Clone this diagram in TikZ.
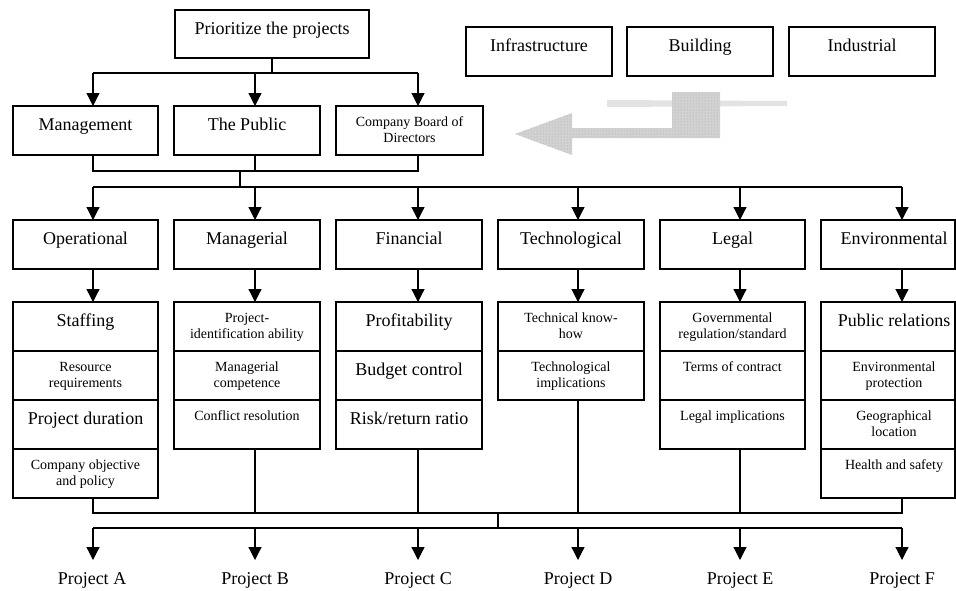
\documentclass[tikz,border=0pt]{standalone}
\usepackage{fontspec}
\setmainfont{Liberation Serif}
\usetikzlibrary{arrows.meta,patterns}
\newcommand\mybox[6]{%
  \node[box,minimum width=#3pt,minimum height=#4pt] (#1) at (#2) {};
  \node[txt,#5] (#1t) at ([yshift=-9.5pt]#1.north) {\strut #6};}
\begin{document}
\begin{tikzpicture}[x=1pt,y=-1pt,
  box/.style={draw, line width=1.2pt, rectangle, inner sep=0pt, outer sep=0pt, anchor=north west},
  big/.style={font=\fontsize{18}{21}\selectfont},
  small/.style={font=\fontsize{14}{15.5}\selectfont},
  txt/.style={anchor=north, inner sep=0pt, align=center},
  conn/.style={line width=1.2pt},
  arr/.style={line width=1.2pt, -{Triangle[width=13pt,length=13pt]}},
  plabel/.style={big, anchor=base, inner sep=0pt},
  ghost/.style={draw=none, fill=gray!28, pattern color=gray!55},
]
\useasboundingbox (0,0) rectangle (956,590);

% column x positions of connectors
\coordinate (c1) at (93,0);
\coordinate (c2) at (255,0);
\coordinate (c3) at (418,0);
\coordinate (c4) at (578,0);
\coordinate (c5) at (740,0);
\coordinate (c6) at (902,0);

% top
\mybox{top}{175,10}{194}{48}{big}{Prioritize the projects}
\mybox{infra}{466,27}{146}{49}{big}{Infrastructure}
\mybox{build}{627,27}{146}{49}{big}{Building}
\mybox{indu}{789,27}{146}{49}{big}{Industrial}

% row 2
\mybox{mgmt}{13,106}{145}{49}{big}{Management}
\mybox{pub}{174,106}{146}{49}{big}{The Public}
\mybox{board}{336,106}{147}{49}{small}{Company Board of\\Directors}

% row 3
\mybox{op}{13,220}{145}{49}{big}{Operational}
\mybox{ma}{174,220}{146}{49}{big}{Managerial}
\mybox{fi}{336,220}{146}{49}{big}{Financial}
\mybox{te}{498,220}{146}{49}{big}{Technological}
\mybox{le}{660,220}{145}{49}{big}{Legal}
\mybox{en}{821,220}{134}{49}{big,xshift=6pt}{Environmental}

% row 4 column 1
\mybox{op1}{13,302}{145}{49}{big}{Staffing}
\mybox{op2}{13,351}{145}{49}{small}{Resource\\requirements}
\mybox{op3}{13,400}{145}{49}{big}{Project duration}
\mybox{op4}{13,449}{145}{49}{small}{Company objective\\and policy}
% column 2
\mybox{ma1}{174,302}{146}{49}{small}{Project-\\identification ability}
\mybox{ma2}{174,351}{146}{49}{small}{Managerial\\competence}
\mybox{ma3}{174,400}{146}{49}{small}{Conflict resolution}
% column 3
\mybox{fi1}{336,302}{146}{49}{big}{Profitability}
\mybox{fi2}{336,351}{146}{49}{big}{Budget control}
\mybox{fi3}{336,400}{146}{49}{big}{Risk/return ratio}
% column 4
\mybox{te1}{498,302}{146}{49}{small}{Technical know-\\how}
\mybox{te2}{498,351}{146}{49}{small}{Technological\\implications}
% column 5
\mybox{le1}{660,302}{145}{49}{small}{Governmental\\regulation/standard}
\mybox{le2}{660,351}{145}{49}{small}{Terms of contract}
\mybox{le3}{660,400}{145}{49}{small}{Legal implications}
% column 6
\mybox{en1}{821,302}{134}{49}{big,xshift=6pt}{Public relations}
\mybox{en2}{821,351}{134}{49}{small,xshift=6pt}{Environmental\\protection}
\mybox{en3}{821,400}{134}{49}{small,xshift=6pt}{Geographical\\location}
\mybox{en4}{821,449}{134}{49}{small,xshift=6pt}{Health and safety}

% project labels
\node[plabel] (pA) at (92,584) {Project A};
\node[plabel] (pB) at (255,584) {Project B};
\node[plabel] (pC) at (418,584) {Project C};
\node[plabel] (pD) at (578,584) {Project D};
\node[plabel] (pE) at (740,584) {Project E};
\node[plabel] (pF) at (902,584) {Project F};

% bus coordinates
\coordinate (b0) at (272,73);
\coordinate (b1) at (240,171);
\coordinate (b2) at (240,187);
\coordinate (b3) at (498,513);
\coordinate (b4) at (498,528);
\coordinate (tip) at (0,560);

% top -> row 2
\draw[conn] (top.south) -- (b0);
\draw[conn] (b0 -| c1) -- (b0 -| c3);
\draw[arr] (b0 -| c1) -- (mgmt.north -| c1);
\draw[arr] (b0 -| c2) -- (pub.north -| c2);
\draw[arr] (b0 -| c3) -- (board.north -| c3);

% row 2 -> row 3
\draw[conn] (mgmt.south -| c1) -- (b1 -| c1) -- (b1 -| c3) -- (board.south -| c3);
\draw[conn] (pub.south -| c2) -- (b1 -| c2);
\draw[conn] (b1) -- (b2);
\draw[conn] (b2 -| c1) -- (b2 -| c6);
\draw[arr] (b2 -| c1) -- (op.north -| c1);
\draw[arr] (b2 -| c2) -- (ma.north -| c2);
\draw[arr] (b2 -| c3) -- (fi.north -| c3);
\draw[arr] (b2 -| c4) -- (te.north -| c4);
\draw[arr] (b2 -| c5) -- (le.north -| c5);
\draw[arr] (b2 -| c6) -- (en.north -| c6);

% row 3 -> row 4
\draw[arr] (op.south -| c1) -- (op1.north -| c1);
\draw[arr] (ma.south -| c2) -- (ma1.north -| c2);
\draw[arr] (fi.south -| c3) -- (fi1.north -| c3);
\draw[arr] (te.south -| c4) -- (te1.north -| c4);
\draw[arr] (le.south -| c5) -- (le1.north -| c5);
\draw[arr] (en.south -| c6) -- (en1.north -| c6);

% row 4 -> projects
\draw[conn] (op4.south -| c1) -- (b3 -| c1) -- (b3 -| c6) -- (en4.south -| c6);
\draw[conn] (ma3.south -| c2) -- (b3 -| c2);
\draw[conn] (fi3.south -| c3) -- (b3 -| c3);
\draw[conn] (te2.south -| c4) -- (b3 -| c4);
\draw[conn] (le3.south -| c5) -- (b3 -| c5);
\draw[conn] (b3) -- (b4);
\draw[conn] (b4 -| c1) -- (b4 -| c6);
\draw[arr] (b4 -| c1) -- (tip -| c1);
\draw[arr] (b4 -| c2) -- (tip -| c2);
\draw[arr] (b4 -| c3) -- (tip -| c3);
\draw[arr] (b4 -| c4) -- (tip -| c4);
\draw[arr] (b4 -| c5) -- (tip -| c5);
\draw[arr] (b4 -| c6) -- (tip -| c6);

% faded grey bent arrow
\fill[gray!22] (607,100) -- (787,101) -- (787,106) -- (607,107) -- cycle;
\fill[gray!35] (515,134) -- (572,113) -- (572,128) -- (672,128) -- (672,92)
  -- (720,92) -- (720,138) -- (572,138) -- (572,155) -- cycle;
\fill[pattern=dots, pattern color=gray!70] (515,134) -- (572,113) -- (572,128) -- (672,128) -- (672,92)
  -- (720,92) -- (720,138) -- (572,138) -- (572,155) -- cycle;
\end{tikzpicture}
\end{document}
